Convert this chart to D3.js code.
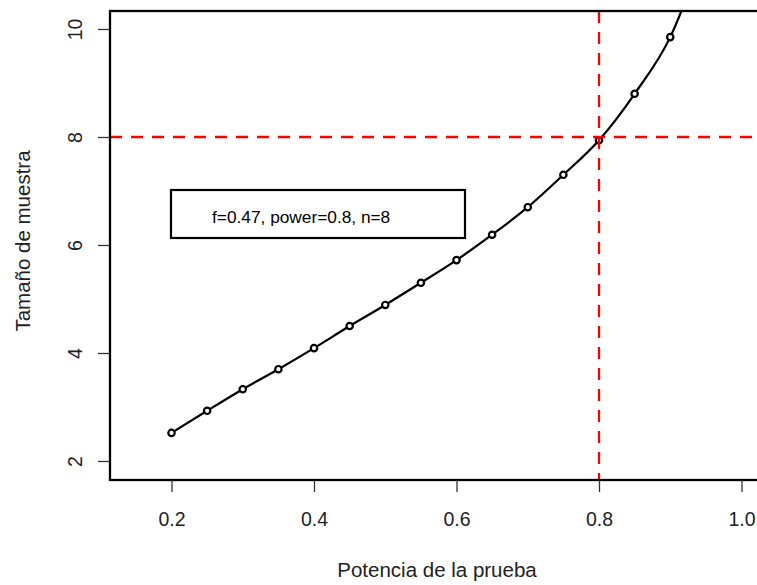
<!DOCTYPE html>
<html>
<head>
<meta charset="utf-8">
<script src="https://cdn.jsdelivr.net/npm/d3@7"></script>
<style>
  html, body { margin: 0; padding: 0; background: #fff; }
  svg { display: block; font-family: "Liberation Sans", Arial, sans-serif; }
</style>
</head>
<body>
<svg id="chart" width="757" height="585"></svg>
<script>
// Power of the test vs. required sample size
const power = [0.20, 0.25, 0.30, 0.35, 0.40, 0.45, 0.50, 0.55, 0.60, 0.65, 0.70, 0.75, 0.80, 0.85, 0.90, 0.95];
const sampleSize = [2.52, 2.93, 3.33, 3.70, 4.09, 4.50, 4.89, 5.30, 5.72, 6.19, 6.70, 7.30, 7.94, 8.80, 9.85, 11.56];
const xTicks = [0.2, 0.4, 0.6, 0.8, 1.0];
const yTicks = [2, 4, 6, 8, 10];
const targetPower = 0.8;
const targetN = 8;
const legendText = "f=0.47, power=0.8, n=8";
const xTitle = "Potencia de la prueba";
const yTitle = "Tamaño de muestra";

const svg = d3.select("#chart");

// plot region
const plotLeft = 110, plotTop = 11, plotBottom = 480, plotRight = 765;

const x = d3.scaleLinear().domain([0.2, 1.0]).range([171.5, 741.5]);
const y = d3.scaleLinear().domain([2, 10]).range([461, 29]);

// clip to the plotting region
svg.append("defs").append("clipPath").attr("id", "plotclip")
  .append("rect").attr("x", plotLeft).attr("y", plotTop)
  .attr("width", plotRight - plotLeft).attr("height", plotBottom - plotTop);

const plot = svg.append("g").attr("clip-path", "url(#plotclip)");

// curve
const line = d3.line()
  .x((d, i) => x(power[i]))
  .y(d => y(d))
  .curve(d3.curveMonotoneX);

plot.append("path")
  .datum(sampleSize)
  .attr("d", line)
  .attr("fill", "none")
  .attr("stroke", "#000")
  .attr("stroke-width", 2.2);

plot.selectAll("circle.pt")
  .data(sampleSize)
  .join("circle")
  .attr("class", "pt")
  .attr("cx", (d, i) => x(power[i]))
  .attr("cy", d => y(d))
  .attr("r", 3.2)
  .attr("fill", "#fff")
  .attr("stroke", "#000")
  .attr("stroke-width", 2.2);

// reference lines
plot.append("line")
  .attr("x1", plotLeft).attr("x2", plotRight)
  .attr("y1", y(targetN)).attr("y2", y(targetN))
  .attr("stroke", "#ff0000").attr("stroke-width", 2.3)
  .attr("stroke-dasharray", "12 9");

plot.append("line")
  .attr("x1", x(targetPower)).attr("x2", x(targetPower))
  .attr("y1", plotTop).attr("y2", plotBottom)
  .attr("stroke", "#ff0000").attr("stroke-width", 2.3)
  .attr("stroke-dasharray", "12 9");

// legend box
const lg = svg.append("g");
lg.append("rect")
  .attr("x", 171).attr("y", 190)
  .attr("width", 294).attr("height", 48)
  .attr("fill", "#fff")
  .attr("stroke", "#000").attr("stroke-width", 2.2);
lg.append("text")
  .attr("x", 212).attr("y", 223)
  .attr("font-size", 17.3)
  .attr("fill", "#000")
  .text(legendText);

// frame
svg.append("rect")
  .attr("x", plotLeft).attr("y", plotTop)
  .attr("width", plotRight - plotLeft).attr("height", plotBottom - plotTop)
  .attr("fill", "none")
  .attr("stroke", "#000").attr("stroke-width", 2.3);

// x axis
const xAxis = svg.append("g").attr("transform", `translate(0,${plotBottom})`)
  .call(d3.axisBottom(x).tickValues(xTicks).tickFormat(d3.format(".1f")).tickSize(12).tickPadding(0));
xAxis.select(".domain").remove();
xAxis.selectAll(".tick line").attr("stroke", "#333").attr("stroke-width", 1.3);
xAxis.selectAll(".tick text")
  .attr("font-size", 19.5)
  .attr("font-family", "Liberation Sans, Arial, sans-serif")
  .attr("fill", "#222")
  .attr("dy", 0)
  .attr("y", 46);

// y axis
const yAxis = svg.append("g").attr("transform", `translate(${plotLeft},0)`)
  .call(d3.axisLeft(y).tickValues(yTicks).tickSize(12).tickFormat(d3.format("d")));
yAxis.select(".domain").remove();
yAxis.selectAll(".tick line").attr("stroke", "#333").attr("stroke-width", 1.3);
yAxis.selectAll(".tick text")
  .attr("font-size", 19.5)
  .attr("font-family", "Liberation Sans, Arial, sans-serif")
  .attr("fill", "#222")
  .attr("text-anchor", "middle")
  .attr("x", 0).attr("dy", 0).attr("y", 0)
  .attr("transform", "translate(-28,0) rotate(-90)");

// titles
svg.append("text")
  .attr("x", 437).attr("y", 577)
  .attr("text-anchor", "middle")
  .attr("font-size", 20.5)
  .attr("fill", "#222")
  .text(xTitle);

svg.append("text")
  .attr("transform", `translate(30,241) rotate(-90)`)
  .attr("text-anchor", "middle")
  .attr("font-size", 20.5)
  .attr("fill", "#222")
  .text(yTitle);
</script>
</body>
</html>
